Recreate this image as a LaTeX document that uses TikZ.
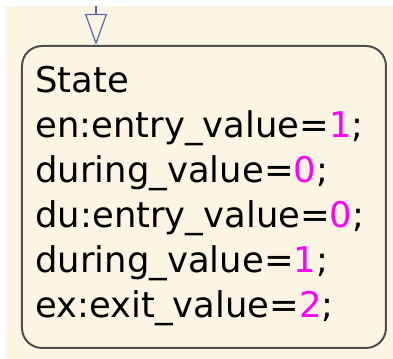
\documentclass[tikz,border=0pt]{standalone}
\usepackage{fontspec}
\setmainfont{DejaVu Sans}
\usepackage{xcolor}
\usetikzlibrary{arrows.meta, positioning}

\definecolor{chartbg}{HTML}{FDF5E3}
\definecolor{stateline}{HTML}{4F4F4F}
\definecolor{transline}{HTML}{5A64B4}
\definecolor{val}{HTML}{FF00FF}

\begin{document}
\begin{tikzpicture}[x=0.5pt,y=0.5pt,
    state/.style={draw=stateline,line width=1pt,rounded corners=10pt,
        minimum width=182pt,minimum height=151pt,inner sep=0pt},
    actions/.style={align=left,inner sep=0pt,font=\fontsize{17.7}{22.5}\selectfont},
    default/.style={draw=transline,line width=0.6pt,
        -{Triangle[open,length=15.5pt,width=11pt]}}]
    \useasboundingbox (0,0) rectangle (393,359);
    \fill[chartbg] (5,0) rectangle (393,353);

    \node[state] (st) at (204,162) {};
    % base of a multi-line node is its last line
    \node[actions,anchor=base west] (acts) at (35,41)
        {State\\
         en:entry\_value=\textcolor{val}{1};\\
         during\_value=\textcolor{val}{0};\\
         du:entry\_value=\textcolor{val}{0};\\
         during\_value=\textcolor{val}{1};\\
         ex:exit\_value=\textcolor{val}{2};};

    \coordinate (init) at (96,353);
    \draw[default] (init) -- (init |- st.north);
\end{tikzpicture}
\end{document}
